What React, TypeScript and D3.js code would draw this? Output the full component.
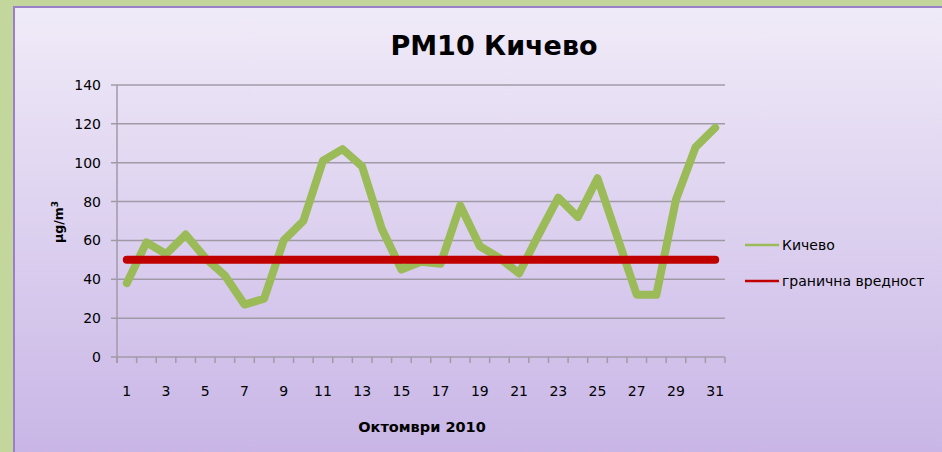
import React from "react";
import * as d3 from "d3";

const days: number[] = Array.from({ length: 31 }, (_, i) => i + 1);
const kichevo: number[] = [38, 59, 53, 63, 51, 42, 27, 30, 60, 70, 101, 107, 98, 66, 45, 49, 48, 78, 57, 51, 43, 63, 82, 72, 92, 62, 32, 32, 81, 108, 118];
const limitValue: number[] = Array.from({ length: 31 }, () => 50);
const yTicks: number[] = [0, 20, 40, 60, 80, 100, 120, 140];
const xTickLabels: number[] = [1, 3, 5, 7, 9, 11, 13, 15, 17, 19, 21, 23, 25, 27, 29, 31];
const seriesNames: string[] = ["Кичево", "гранична вредност"];

const W = 942;
const H = 452;
const FONT = "'Comic Sans MS', 'DejaVu Sans', sans-serif";

export default function App() {
  const left = 117;
  const right = 725;
  const top = 85;
  const bottom = 357;

  const x = d3.scaleBand<number>().domain(days).range([left, right]);
  const y = d3.scaleLinear().domain([0, 140]).range([bottom, top]);
  const cx = (d: number) => (x(d) as number) + x.bandwidth() / 2;

  const line = d3
    .line<number>()
    .x((_, i) => cx(days[i]))
    .y((v) => y(v));

  const tickXs = d3.range(0, 32).map((i) => left + i * x.bandwidth());

  return (
    <svg
      width={W}
      height={H}
      style={{ position: "absolute", left: 0, top: 0, display: "block" }}
    >
      <defs>
        <linearGradient id="bg" x1="0" y1="0" x2="0" y2="1">
          <stop offset="0%" stopColor="#f0ebf8" />
          <stop offset="100%" stopColor="#c8b5e6" />
        </linearGradient>
      </defs>
      <rect x={0} y={0} width={W} height={H} fill="#c3d69b" />
      <rect x={14} y={7} width={W} height={H} fill="url(#bg)" stroke="#9a80c8" strokeWidth={2} />

      <text x={494} y={55} textAnchor="middle" fontFamily={FONT} fontWeight="bold" fontSize={27} fill="#000">
        PM10 Кичево
      </text>

      {yTicks.map((t) => (
        <g key={t}>
          <line x1={left - 6} x2={right} y1={y(t)} y2={y(t)} stroke="#a09aa6" strokeWidth={1.5} />
          <text x={101} y={y(t) + 5} textAnchor="end" fontFamily={FONT} fontSize={14} fill="#000">
            {t}
          </text>
        </g>
      ))}
      <line x1={left} x2={left} y1={top} y2={bottom + 6} stroke="#a09aa6" strokeWidth={1.5} />
      {tickXs.map((tx, i) => (
        <line key={i} x1={tx} x2={tx} y1={bottom} y2={bottom + 6} stroke="#a09aa6" strokeWidth={1.5} />
      ))}
      {xTickLabels.map((d) => (
        <text key={d} x={cx(d)} y={396} textAnchor="middle" fontFamily={FONT} fontSize={14} fill="#000">
          {d}
        </text>
      ))}

      <text x={422} y={432} textAnchor="middle" fontFamily={FONT} fontWeight="bold" fontSize={14.5} fill="#000">
        Октомври 2010
      </text>
      <text
        transform={`translate(63,222) rotate(-90)`}
        textAnchor="middle"
        fontFamily={FONT}
        fontWeight="bold"
        fontSize={12.5}
        fill="#000"
      >
        μg/m<tspan dy={-5} fontSize={9}>3</tspan>
      </text>

      <path d={line(kichevo) || ""} fill="none" stroke="#9bbb59" strokeWidth={8} strokeLinejoin="round" strokeLinecap="round" />
      <path d={line(limitValue) || ""} fill="none" stroke="#c00000" strokeWidth={8} strokeLinejoin="round" strokeLinecap="round" />

      <line x1={745} x2={779} y1={245} y2={245} stroke="#9bbb59" strokeWidth={2.5} />
      <text x={782} y={250} fontFamily={FONT} fontSize={14} fill="#000">
        {seriesNames[0]}
      </text>
      <line x1={745} x2={779} y1={281} y2={281} stroke="#c00000" strokeWidth={2.5} />
      <text x={782} y={286} fontFamily={FONT} fontSize={14} fill="#000">
        {seriesNames[1]}
      </text>
    </svg>
  );
}
